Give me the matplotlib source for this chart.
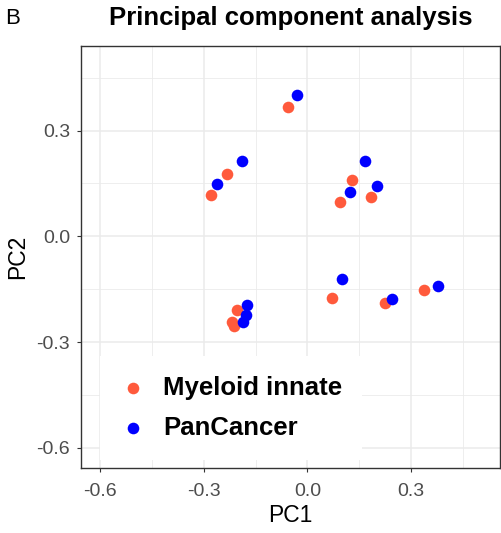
import matplotlib
matplotlib.use("Agg")
import matplotlib.pyplot as plt
from matplotlib.ticker import MultipleLocator

plt.rcParams['font.family'] = ['Liberation Sans', 'DejaVu Sans']

groups = ["Myeloid innate", "PanCancer"]
colors = ["#FF5A3C", "#0000FF"]

myeloid_pc1 = [-0.057, -0.232, -0.280, 0.128, 0.095, 0.185, 0.071, 0.223, 0.337, -0.204, -0.218, -0.213]
myeloid_pc2 = [0.368, 0.176, 0.117, 0.159, 0.098, 0.112, -0.174, -0.188, -0.151, -0.210, -0.243, -0.253]
pancancer_pc1 = [-0.029, -0.190, -0.262, 0.166, 0.124, 0.200, 0.101, 0.244, 0.379, -0.174, -0.179, -0.187]
pancancer_pc2 = [0.401, 0.214, 0.148, 0.214, 0.125, 0.144, -0.122, -0.179, -0.141, -0.196, -0.222, -0.244]

xticks = [-0.6, -0.3, 0.0, 0.3]
yticks = [-0.6, -0.3, 0.0, 0.3]

fig = plt.figure(figsize=(5.02, 5.33), dpi=100)
ax = fig.add_axes([81/502, 1-468/533, 419/502, 422/533])

ax.set_xlim(-0.655, 0.557)
ax.set_ylim(-0.657, 0.54)
ax.set_xticks(xticks)
ax.set_yticks(yticks)
ax.set_xticklabels([f"{v:.1f}" for v in xticks])
ax.set_yticklabels([f"{v:.1f}" for v in yticks])
ax.xaxis.set_minor_locator(MultipleLocator(0.15))
ax.yaxis.set_minor_locator(MultipleLocator(0.15))
ax.set_axisbelow(True)
ax.grid(which='major', color='#EBEBEB', linewidth=1.1)
ax.grid(which='minor', color='#EBEBEB', linewidth=0.6)
ax.tick_params(which='minor', length=0)
ax.tick_params(which='major', length=3, width=0.8, color='#333333',
               labelsize=14, labelcolor='#4D4D4D')
ax.tick_params(axis='x', which='major', pad=8)
ax.tick_params(axis='y', which='major', pad=5)
for s in ax.spines.values():
    s.set_color('#333333')
    s.set_linewidth(1.0)

h1 = ax.scatter(myeloid_pc1, myeloid_pc2, s=70, color=colors[0], label=groups[0], linewidths=0, zorder=3)
h2 = ax.scatter(pancancer_pc1, pancancer_pc2, s=70, color=colors[1], label=groups[1], linewidths=0, zorder=3)

ax.set_xlabel("PC1", fontsize=16.5, color='black', labelpad=3)
ax.set_ylabel("PC2", fontsize=16.5, color='black', labelpad=5)
ax.set_title("Principal component analysis", fontsize=18.5, fontweight='bold', pad=15)

leg = ax.legend(handles=[h1, h2], loc='lower left', bbox_to_anchor=(0.045, 0.02),
                prop={'size': 18.5, 'weight': 'bold'}, frameon=True, facecolor='white',
                edgecolor='none', framealpha=1, fancybox=False, borderpad=0.78,
                handlelength=1.0, handletextpad=0.67, labelspacing=0.62,
                borderaxespad=0, scatterpoints=1)

fig.text(0.01, 0.985, "B", fontsize=16, va='top', ha='left')

fig.savefig("out.png", dpi=100)
